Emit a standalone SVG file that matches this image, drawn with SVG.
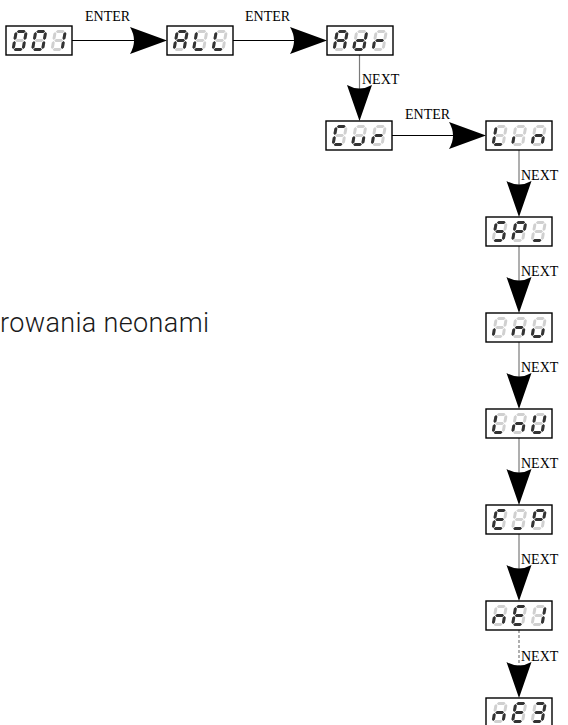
<svg xmlns="http://www.w3.org/2000/svg" xmlns:xlink="http://www.w3.org/1999/xlink" width="568" height="725" viewBox="0 0 568 725">
  <style>
    .box{fill:#fff;stroke:#000;stroke-width:1.4}
    .off{fill:#d0d0d0}
    .on{fill:#333}
    .lbl{font-family:"Liberation Serif","Times New Roman",serif;font-size:14px;fill:#000}
    .txt{font-family:Roboto,"Liberation Sans",sans-serif;font-weight:300;font-size:27px;fill:#1a1a1a}
    .h{stroke:#000;stroke-width:1;fill:none}
    .v{stroke:#7a7a7a;stroke-width:1.2;fill:none}
    .dash{stroke-dasharray:3 2}
    .head{fill:#000}
  </style>
  <defs>
    <!-- seven-segment pieces, upright 13x21 cell -->
    <polygon id="sa" points="2.1,1.5 3.6,0 9.4,0 10.9,1.5 9.4,3 3.6,3"/>
    <polygon id="sg" points="2.1,10.5 3.6,9 9.4,9 10.9,10.5 9.4,12 3.6,12"/>
    <polygon id="sd" points="2.1,19.5 3.6,18 9.4,18 10.9,19.5 9.4,21 3.6,21"/>
    <polygon id="sf" points="1.5,2.1 3,3.6 3,8.4 1.5,9.9 0,8.4 0,3.6"/>
    <polygon id="se" points="1.5,11.1 3,12.6 3,17.4 1.5,18.9 0,17.4 0,12.6"/>
    <polygon id="sb" points="11.5,2.1 13,3.6 13,8.4 11.5,9.9 10,8.4 10,3.6"/>
    <polygon id="sc" points="11.5,11.1 13,12.6 13,17.4 11.5,18.9 10,17.4 10,12.6"/>
    <g id="d8">
      <use href="#sa"/><use href="#sb"/><use href="#sc"/><use href="#sd"/>
      <use href="#se"/><use href="#sf"/><use href="#sg"/>
    </g>
    <!-- arrowheads with concave back, tip at origin -->
    <path id="ahr" d="M0,0 L-37,-13.5 Q-29,0 -37,13.5 Z"/>
    <path id="ahd" d="M0,0 L-12.5,-36 Q0,-29 12.5,-36 Z"/>
  </defs>

  <rect width="568" height="725" fill="#fff"/>

  <text class="txt" x="0" y="332" textLength="209" lengthAdjust="spacing">rowania neonami</text>

  <!-- connectors -->
  <g id="connectors">
    <line class="h" x1="72" y1="40.5" x2="136" y2="40.5"/>
    <use class="head" href="#ahr" x="167" y="40.5"/>
    <line class="h" x1="233" y1="40.5" x2="296" y2="40.5"/>
    <use class="head" href="#ahr" x="327" y="40.5"/>
    <line class="v" x1="359.5" y1="55" x2="359.5" y2="90"/>
    <use class="head" href="#ahd" x="359.5" y="121"/>
    <line class="h" x1="392" y1="135.5" x2="455" y2="135.5"/>
    <use class="head" href="#ahr" x="486" y="135.5"/>

    <line class="v" x1="519" y1="150" x2="519" y2="186"/>
    <use class="head" href="#ahd" x="519" y="217"/>
    <line class="v" x1="519" y1="246" x2="519" y2="282"/>
    <use class="head" href="#ahd" x="519" y="313"/>
    <line class="v" x1="519" y1="342" x2="519" y2="378"/>
    <use class="head" href="#ahd" x="519" y="409"/>
    <line class="v" x1="519" y1="438" x2="519" y2="474"/>
    <use class="head" href="#ahd" x="519" y="505"/>
    <line class="v" x1="519" y1="534" x2="519" y2="570"/>
    <use class="head" href="#ahd" x="519" y="601"/>
    <line class="v dash" x1="519" y1="630" x2="519" y2="668"/>
    <use class="head" href="#ahd" x="519" y="698"/>

    <text class="lbl" x="85" y="21">ENTER</text>
    <text class="lbl" x="245" y="21">ENTER</text>
    <text class="lbl" x="405" y="119">ENTER</text>
    <text class="lbl" x="362" y="84">NEXT</text>
    <text class="lbl" x="521" y="180">NEXT</text>
    <text class="lbl" x="521" y="276">NEXT</text>
    <text class="lbl" x="521" y="372">NEXT</text>
    <text class="lbl" x="521" y="468">NEXT</text>
    <text class="lbl" x="521" y="564">NEXT</text>
    <text class="lbl" x="521" y="661">NEXT</text>
  </g>

  <!-- displays -->
  <g id="n-001" transform="translate(6,26)">
    <rect class="box" width="66" height="29"/>
    <g transform="translate(9,4) skewX(-10)"><use class="off" href="#d8"/><use class="on" href="#sa"/><use class="on" href="#sb"/><use class="on" href="#sc"/><use class="on" href="#sd"/><use class="on" href="#se"/><use class="on" href="#sf"/></g>
    <g transform="translate(28.5,4) skewX(-10)"><use class="off" href="#d8"/><use class="on" href="#sa"/><use class="on" href="#sb"/><use class="on" href="#sc"/><use class="on" href="#sd"/><use class="on" href="#se"/><use class="on" href="#sf"/></g>
    <g transform="translate(48,4) skewX(-10)"><use class="off" href="#d8"/><use class="on" href="#sb"/><use class="on" href="#sc"/></g>
  </g>

  <g id="n-all" transform="translate(167,26)">
    <rect class="box" width="66" height="29"/>
    <g transform="translate(9,4) skewX(-10)"><use class="off" href="#d8"/><use class="on" href="#sa"/><use class="on" href="#sb"/><use class="on" href="#sc"/><use class="on" href="#se"/><use class="on" href="#sf"/><use class="on" href="#sg"/></g>
    <g transform="translate(28.5,4) skewX(-10)"><use class="off" href="#d8"/><use class="on" href="#sd"/><use class="on" href="#se"/><use class="on" href="#sf"/></g>
    <g transform="translate(48,4) skewX(-10)"><use class="off" href="#d8"/><use class="on" href="#sd"/><use class="on" href="#se"/><use class="on" href="#sf"/></g>
  </g>

  <g id="n-adr" transform="translate(327,26)">
    <rect class="box" width="66" height="29"/>
    <g transform="translate(9,4) skewX(-10)"><use class="off" href="#d8"/><use class="on" href="#sa"/><use class="on" href="#sb"/><use class="on" href="#sc"/><use class="on" href="#se"/><use class="on" href="#sf"/><use class="on" href="#sg"/></g>
    <g transform="translate(28.5,4) skewX(-10)"><use class="off" href="#d8"/><use class="on" href="#sb"/><use class="on" href="#sc"/><use class="on" href="#sd"/><use class="on" href="#se"/><use class="on" href="#sg"/></g>
    <g transform="translate(48,4) skewX(-10)"><use class="off" href="#d8"/><use class="on" href="#se"/><use class="on" href="#sg"/></g>
  </g>

  <g id="n-cur" transform="translate(326,121)">
    <rect class="box" width="66" height="29"/>
    <g transform="translate(9,4) skewX(-10)"><use class="off" href="#d8"/><use class="on" href="#sa"/><use class="on" href="#sd"/><use class="on" href="#se"/><use class="on" href="#sf"/></g>
    <g transform="translate(28.5,4) skewX(-10)"><use class="off" href="#d8"/><use class="on" href="#sc"/><use class="on" href="#sd"/><use class="on" href="#se"/></g>
    <g transform="translate(48,4) skewX(-10)"><use class="off" href="#d8"/><use class="on" href="#se"/><use class="on" href="#sg"/></g>
  </g>

  <g id="n-lin" transform="translate(486,121)">
    <rect class="box" width="66" height="29"/>
    <g transform="translate(9,4) skewX(-10)"><use class="off" href="#d8"/><use class="on" href="#sd"/><use class="on" href="#se"/><use class="on" href="#sf"/></g>
    <g transform="translate(28.5,4) skewX(-10)"><use class="off" href="#d8"/><use class="on" href="#se"/></g>
    <g transform="translate(48,4) skewX(-10)"><use class="off" href="#d8"/><use class="on" href="#sc"/><use class="on" href="#se"/><use class="on" href="#sg"/></g>
  </g>

  <g id="n-spl" transform="translate(486,217)">
    <rect class="box" width="66" height="29"/>
    <g transform="translate(9,4) skewX(-10)"><use class="off" href="#d8"/><use class="on" href="#sa"/><use class="on" href="#sc"/><use class="on" href="#sd"/><use class="on" href="#sf"/><use class="on" href="#sg"/></g>
    <g transform="translate(28.5,4) skewX(-10)"><use class="off" href="#d8"/><use class="on" href="#sa"/><use class="on" href="#sb"/><use class="on" href="#se"/><use class="on" href="#sf"/><use class="on" href="#sg"/></g>
    <g transform="translate(48,4) skewX(-10)"><use class="off" href="#d8"/><use class="on" href="#sd"/></g>
  </g>

  <g id="n-inu" transform="translate(486,313)">
    <rect class="box" width="66" height="29"/>
    <g transform="translate(9,4) skewX(-10)"><use class="off" href="#d8"/><use class="on" href="#se"/></g>
    <g transform="translate(28.5,4) skewX(-10)"><use class="off" href="#d8"/><use class="on" href="#sc"/><use class="on" href="#se"/><use class="on" href="#sg"/></g>
    <g transform="translate(48,4) skewX(-10)"><use class="off" href="#d8"/><use class="on" href="#sc"/><use class="on" href="#sd"/><use class="on" href="#se"/></g>
  </g>

  <g id="n-lnu" transform="translate(486,409)">
    <rect class="box" width="66" height="29"/>
    <g transform="translate(9,4) skewX(-10)"><use class="off" href="#d8"/><use class="on" href="#sd"/><use class="on" href="#se"/><use class="on" href="#sf"/></g>
    <g transform="translate(28.5,4) skewX(-10)"><use class="off" href="#d8"/><use class="on" href="#sc"/><use class="on" href="#se"/><use class="on" href="#sg"/></g>
    <g transform="translate(48,4) skewX(-10)"><use class="off" href="#d8"/><use class="on" href="#sb"/><use class="on" href="#sc"/><use class="on" href="#sd"/><use class="on" href="#se"/><use class="on" href="#sf"/></g>
  </g>

  <g id="n-ep" transform="translate(486,505)">
    <rect class="box" width="66" height="29"/>
    <g transform="translate(9,4) skewX(-10)"><use class="off" href="#d8"/><use class="on" href="#sa"/><use class="on" href="#sd"/><use class="on" href="#se"/><use class="on" href="#sf"/><use class="on" href="#sg"/></g>
    <g transform="translate(28.5,4) skewX(-10)"><use class="off" href="#d8"/><use class="on" href="#sd"/></g>
    <g transform="translate(48,4) skewX(-10)"><use class="off" href="#d8"/><use class="on" href="#sa"/><use class="on" href="#sb"/><use class="on" href="#se"/><use class="on" href="#sf"/><use class="on" href="#sg"/></g>
  </g>

  <g id="n-ne1" transform="translate(486,601)">
    <rect class="box" width="66" height="29"/>
    <g transform="translate(9,4) skewX(-10)"><use class="off" href="#d8"/><use class="on" href="#sc"/><use class="on" href="#se"/><use class="on" href="#sg"/></g>
    <g transform="translate(28.5,4) skewX(-10)"><use class="off" href="#d8"/><use class="on" href="#sa"/><use class="on" href="#sd"/><use class="on" href="#se"/><use class="on" href="#sf"/><use class="on" href="#sg"/></g>
    <g transform="translate(48,4) skewX(-10)"><use class="off" href="#d8"/><use class="on" href="#sb"/><use class="on" href="#sc"/></g>
  </g>

  <g id="n-ne3" transform="translate(486,698)">
    <rect class="box" width="66" height="29"/>
    <g transform="translate(9,4) skewX(-10)"><use class="off" href="#d8"/><use class="on" href="#sc"/><use class="on" href="#se"/><use class="on" href="#sg"/></g>
    <g transform="translate(28.5,4) skewX(-10)"><use class="off" href="#d8"/><use class="on" href="#sa"/><use class="on" href="#sd"/><use class="on" href="#se"/><use class="on" href="#sf"/><use class="on" href="#sg"/></g>
    <g transform="translate(48,4) skewX(-10)"><use class="off" href="#d8"/><use class="on" href="#sa"/><use class="on" href="#sb"/><use class="on" href="#sc"/><use class="on" href="#sd"/><use class="on" href="#sg"/></g>
  </g>
</svg>
